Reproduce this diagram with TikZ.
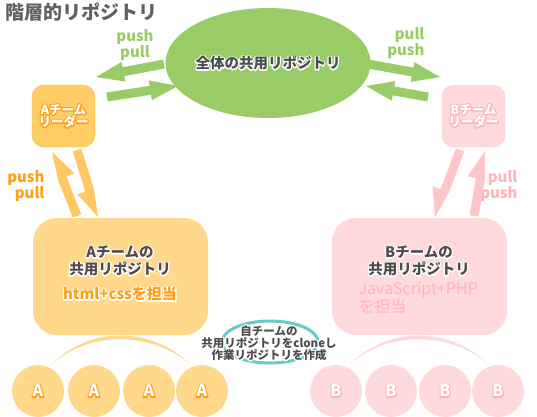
\documentclass[tikz,border=0pt]{standalone}
\usepackage{fontspec}
\setmainfont{Noto Sans CJK JP}
\usepackage{xcolor}
\usetikzlibrary{calc, shapes.geometric}

\definecolor{grn}{HTML}{99CC66}
\definecolor{ink}{HTML}{4D4D4D}
\definecolor{titlec}{HTML}{616161}
\definecolor{ldA}{HTML}{FFCC66}
\definecolor{ldAedge}{HTML}{F7BC55}
\definecolor{rpA}{HTML}{FFD88C}
\definecolor{arA}{HTML}{FFC862}
\definecolor{txA}{HTML}{FF9F1A}
\definecolor{ldB}{HTML}{FFDADD}
\definecolor{ldBedge}{HTML}{FFCDD1}
\definecolor{rpB}{HTML}{FFDADD}
\definecolor{arB}{HTML}{FFC5CA}
\definecolor{txB}{HTML}{FFB3BA}
\definecolor{clonec}{HTML}{62CCC6}

% text with a rim: rim colour, text
\newcommand{\rim}[2]{\leavevmode\rlap{\special{pdf:literal direct 1 Tr 2.4 w 1 j}\textcolor{#1}{#2}\special{pdf:literal direct 0 Tr}}#2}
% thick arrow: colour, tail, tip, barb left, barb right
\newcommand{\boltarrow}[5]{%
  \coordinate (bh) at ($(#3)!28pt!(#2)$);
  \fill[#1] ($(#2)!4.5pt!90:(#3)$) -- ($(bh)!4.5pt!90:(#3)$) -- ($(bh)!#4!90:(#3)$) -- (#3)
    -- ($(bh)!#5!-90:(#3)$) -- ($(bh)!4.5pt!-90:(#3)$) -- ($(#2)!4.5pt!-90:(#3)$) -- cycle;}

\begin{document}
\begin{tikzpicture}[x=1pt, y=-1pt,
    leader/.style={rounded corners=12pt, minimum width=63pt, minimum height=62pt, inner sep=0pt,
      align=center, text=white, font=\bfseries\fontsize{12.5}{12.5}\selectfont},
    repo/.style={rounded corners=24pt, minimum width=175pt, minimum height=117pt},
    member/.style={circle, minimum size=52pt, inner sep=0pt, text=white,
      font=\bfseries\fontsize{16}{16}\selectfont},
    pp/.style={font=\bfseries\fontsize{15}{15}\selectfont}]
  \useasboundingbox (0,0) rectangle (537,416);

  % title
  \node[anchor=west, text=titlec, font=\bfseries\fontsize{19}{19}\selectfont] (title) at (2,12) {階層的リポジトリ};

  % whole repository
  \node[ellipse, fill=grn, minimum width=180pt, minimum height=110pt, inner sep=0pt, text=ink,
    font=\bfseries\fontsize{14.5}{14.5}\selectfont] (whole) at (268,63) {\rim{white}{全体の共用リポジトリ}};

  % leaders
  \node[leader, fill=ldA, draw=ldAedge] (leadA) at (63.5,116) {\rim{txA}{Aチーム}\\\rim{txA}{リーダー}};
  \node[leader, fill=ldB, draw=ldBedge] (leadB) at (473.5,116) {\rim{txB}{Bチーム}\\\rim{txB}{リーダー}};

  % team repositories
  \node[repo, fill=rpA] (repoA) at (120.5,276.5) {};
  \node[repo, fill=rpB] (repoB) at (419.5,276.5) {};
  \node[text=ink, align=center, font=\bfseries\fontsize{14.5}{17}\selectfont] (nameA) at (120,261) {\rim{white}{Aチームの}\\\rim{white}{共用リポジトリ}};
  \node[text=ink, align=center, font=\bfseries\fontsize{14.5}{17}\selectfont] (nameB) at (419,261) {\rim{white}{Bチームの}\\\rim{white}{共用リポジトリ}};
  \node[text=txA, font=\bfseries\fontsize{15}{15}\selectfont] (taskA) at (120,294) {\rim{white}{html+cssを担当}};
  \node[text=txB, anchor=west, align=left, font=\fontsize{16}{16}\selectfont] (taskB) at (355,298) {JavaScript+PHP\\を担当};

  % members
  \foreach \x [count=\i] in {38,94,149,202}
    \node[member, fill=rpA] (a\i) at (\x,391) {\rim{txA}{A}};
  \foreach \x [count=\i] in {336,391,445,498}
    \node[member, fill=rpB] (b\i) at (\x,391) {\rim{txB}{B}};
  \fill[rpA] (52,364) .. controls (90,326) and (150,326) .. (190,364) .. controls (150,331) and (90,331) .. cycle;
  \fill[rpB] (350,364) .. controls (388,326) and (450,326) .. (488,364) .. controls (450,331) and (388,331) .. cycle;

  % clone note
  \node[ellipse, draw=clonec, line width=3pt, minimum width=96pt, minimum height=42pt] (clone) at (270,342) {};
  \node[text=ink, align=center, font=\bfseries\fontsize{11.5}{11}\selectfont] (cloneText) at (269,343)
    {\rim{white}{自チームの}\\\rim{white}{共用リポジトリをcloneし}\\\rim{white}{作業リポジトリを作成}};

  % push / pull
  \node[pp, text=grn, align=center] (gpA) at (135,45) {push\\pull};
  \node[pp, text=grn, align=right, anchor=east] (gpB) at (428,43) {pull\\push};
  \node[pp, text=txA, align=right, anchor=east] (opA) at (48,186) {push\\pull};
  \node[pp, text=txB, align=right, anchor=east] (opB) at (521,186) {pull\\push};

  \coordinate (g1s) at (164,64);  \coordinate (g1e) at (96,77);
  \coordinate (g2s) at (107,97);  \coordinate (g2e) at (178,86);
  \coordinate (g3s) at (368,64);  \coordinate (g3e) at (440,77);
  \coordinate (g4s) at (428,97);  \coordinate (g4e) at (366,86);
  \coordinate (o1s) at (77,216);  \coordinate (o1e) at (52,152);
  \coordinate (o2s) at (77,150);  \coordinate (o2e) at (98,217);
  \coordinate (p1s) at (460,150); \coordinate (p1e) at (435,217);
  \coordinate (p2s) at (474,216); \coordinate (p2e) at (485,151);
  \boltarrow{grn}{g1s}{g1e}{10pt}{10pt}
  \boltarrow{grn}{g2s}{g2e}{10pt}{10pt}
  \boltarrow{grn}{g3s}{g3e}{10pt}{10pt}
  \boltarrow{grn}{g4s}{g4e}{10pt}{10pt}
  \boltarrow{arA}{o1s}{o1e}{4.5pt}{13pt}
  \boltarrow{arA}{o2s}{o2e}{4.5pt}{13pt}
  \boltarrow{arB}{p1s}{p1e}{4.5pt}{13pt}
  \boltarrow{arB}{p2s}{p2e}{13pt}{4.5pt}
\end{tikzpicture}
\end{document}
